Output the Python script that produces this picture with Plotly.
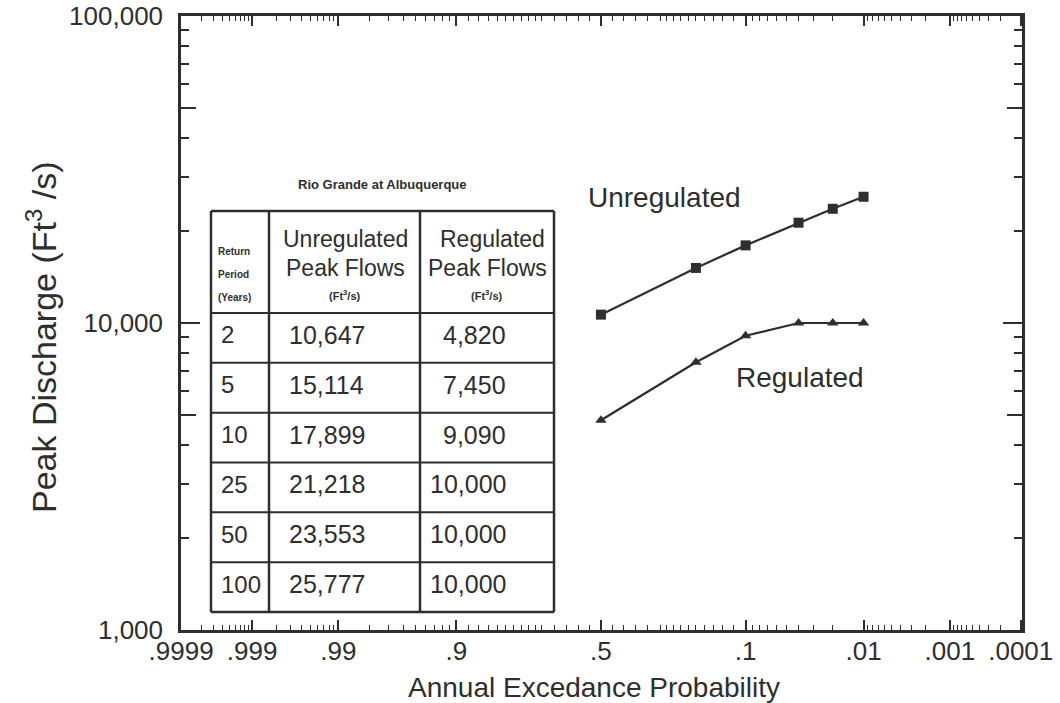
import statistics
import plotly.graph_objects as go

# Rio Grande at Albuquerque: peak discharge by return period
return_periods = [2, 5, 10, 25, 50, 100]
unregulated_cfs = [10647, 15114, 17899, 21218, 23553, 25777]
regulated_cfs = [4820, 7450, 9090, 10000, 10000, 10000]

# probability-axis labels
prob_ticks = [0.9999, 0.999, 0.99, 0.9, 0.5, 0.1, 0.01, 0.001, 0.0001]
prob_labels = [".9999", ".999", ".99", ".9", ".5", ".1", ".01", ".001", ".0001"]
prob_minor = (
    [0.9998, 0.9997, 0.9996, 0.9995, 0.9994, 0.9993, 0.9992, 0.9991]
    + [0.998, 0.997, 0.996, 0.995, 0.994, 0.993, 0.992, 0.991]
    + [0.98, 0.97, 0.96, 0.95, 0.94, 0.93, 0.92, 0.91]
    + [0.88, 0.86, 0.84, 0.82, 0.80, 0.78, 0.76, 0.74, 0.72, 0.70,
       0.66, 0.62, 0.58, 0.54, 0.46, 0.42, 0.38, 0.34, 0.30,
       0.28, 0.26, 0.24, 0.22, 0.20, 0.18, 0.16, 0.14, 0.12]
    + [0.09, 0.08, 0.07, 0.06, 0.05, 0.04, 0.03, 0.02]
    + [0.009, 0.008, 0.007, 0.006, 0.005, 0.004, 0.003, 0.002]
    + [0.0009, 0.0008, 0.0007, 0.0006, 0.0005, 0.0004, 0.0003, 0.0002]
)

# discharge-axis ticks
q_ticks = [1000, 10000, 100000]
q_labels = ["1,000", "10,000", "100,000"]
q_half = [5000, 50000]
q_minor = [m * d for d in (1000, 10000) for m in (2, 3, 4, 6, 7, 8, 9)]

INK = "#2e2e2e"
FONT = "Arial, Liberation Sans, Helvetica, sans-serif"

nd = statistics.NormalDist()


def prob_to_x(p):
    """Normal-probability scale: exceedance probability -> standard score."""
    return nd.inv_cdf(1.0 - p)


x_points = [prob_to_x(1.0 / t) for t in return_periods]

fig = go.Figure()
fig.add_trace(go.Scatter(
    x=x_points, y=unregulated_cfs, mode="lines+markers",
    line=dict(color=INK, width=2.2),
    marker=dict(symbol="square", size=10, color=INK),
    name="Unregulated", showlegend=False, hoverinfo="skip",
))
fig.add_trace(go.Scatter(
    x=x_points, y=regulated_cfs, mode="lines+markers", yaxis="y2",
    line=dict(color=INK, width=2.2),
    marker=dict(symbol="triangle-up", size=10, color=INK),
    name="Regulated", showlegend=False, hoverinfo="skip",
))

# plot-area geometry (pixels)
L, T, R, B = 181, 16, 1022, 630
W, H = R - L, B - T


def px(xpix):
    return (xpix - L) / W


def py(ypix):
    return 1 - (ypix - T) / H


annotations = []


def label(text, x, y, size, xanchor="center", bold=False):
    if bold:
        text = "<b>" + text + "</b>"
    annotations.append(dict(
        text=text, x=px(x), y=py(y), xref="paper", yref="paper",
        xanchor=xanchor, yanchor="middle", showarrow=False,
        font=dict(family=FONT, size=size, color=INK),
    ))


# series labels
label("Unregulated", 664, 197, 28)
label("Regulated", 800, 377, 28)

# axis titles
label("Annual Excedance Probability", 594, 687, 28)
annotations.append(dict(
    text="Peak Discharge (Ft<sup>3</sup> /s)", x=px(41), y=py(338),
    xref="paper", yref="paper", xanchor="center", yanchor="middle",
    showarrow=False, textangle=-90,
    font=dict(family=FONT, size=34, color=INK),
))

# inset table
tx0, tx1, tx2, tx3 = 211, 269, 420, 554
ty_top, ty_head = 211, 313
row_h = (612 - ty_head) / len(return_periods)

shapes = []


def seg(x0, y0, x1, y1, w=2.5):
    shapes.append(dict(type="line", xref="paper", yref="paper",
                       x0=px(x0), y0=py(y0), x1=px(x1), y1=py(y1),
                       line=dict(color=INK, width=w)))


seg(tx0, ty_top, tx3, ty_top)
seg(tx0, 612, tx3, 612)
for xv in (tx0, tx1, tx2, tx3):
    seg(xv, ty_top, xv, 612)
for i in range(len(return_periods)):
    yline = ty_head + i * row_h
    seg(tx0, yline, tx3, yline, 2)

label("Rio Grande at Albuquerque", 382, 184, 13, bold=True)
label("Return", 216, 252, 10, xanchor="left", bold=True)
label("Period", 216, 274, 10, xanchor="left", bold=True)
label("(Years)", 216, 297, 10, xanchor="left", bold=True)
label("Unregulated", 345, 239, 23)
label("Peak Flows", 345, 268, 23)
label("(Ft<sup>3</sup>/s)", 345, 295, 11, bold=True)
label("Regulated", 492, 239, 23)
label("Peak Flows", 487, 268, 23)
label("(Ft<sup>3</sup>/s)", 487, 295, 11, bold=True)

for i, (t, u, r) in enumerate(zip(return_periods, unregulated_cfs, regulated_cfs)):
    yc = ty_head + (i + 0.5) * row_h - 3
    label(str(t), 219, yc, 24, xanchor="left")
    label(f"{u:,}", 287, yc, 25, xanchor="left")
    label(f"{r:,}", 508, yc, 25, xanchor="right")

fig.update_layout(
    width=1060, height=703,
    margin=dict(l=L, r=1060 - R, t=T, b=703 - B),
    paper_bgcolor="white", plot_bgcolor="white",
    font=dict(family=FONT, color=INK),
    shapes=shapes, annotations=annotations,
    showlegend=False,
)

fig.update_xaxes(
    range=[-3.72, 3.73], automargin=False,
    tickmode="array",
    tickvals=[prob_to_x(p) for p in prob_ticks],
    ticktext=prob_labels,
    ticks="inside", ticklen=10, tickwidth=1.5, tickcolor=INK,
    showline=True, linecolor=INK, linewidth=2.5, mirror="ticks",
    showgrid=False, zeroline=False,
    tickfont=dict(family=FONT, size=26, color=INK),
    ticklabelstandoff=-4,
    minor=dict(tickmode="array", tickvals=[prob_to_x(p) for p in prob_minor],
               ticks="inside", ticklen=5, tickwidth=1.2, tickcolor=INK,
               showgrid=False),
)

yaxis_common = dict(
    type="log", range=[3, 5], automargin=False,
    ticks="inside", tickcolor=INK,
    showline=True, linecolor=INK, linewidth=2.5, mirror="ticks",
    showgrid=False, zeroline=False,
)
fig.update_layout(
    yaxis=dict(
        **yaxis_common,
        tickmode="array", tickvals=q_ticks, ticktext=q_labels,
        ticklen=19, tickwidth=2,
        tickfont=dict(family=FONT, size=26, color=INK),
        ticklabelstandoff=10,
        minor=dict(tickmode="array", tickvals=q_minor,
                   ticks="inside", ticklen=8, tickwidth=1.5, tickcolor=INK,
                   showgrid=False),
    ),
    # second scale on the same log range carries the longer half-decade ticks
    yaxis2=dict(
        **yaxis_common,
        overlaying="y", side="left",
        tickmode="array", tickvals=q_half,
        ticklen=15, tickwidth=2, showticklabels=False,
    ),
)

fig.write_html("out.html", config={"displayModeBar": False})
